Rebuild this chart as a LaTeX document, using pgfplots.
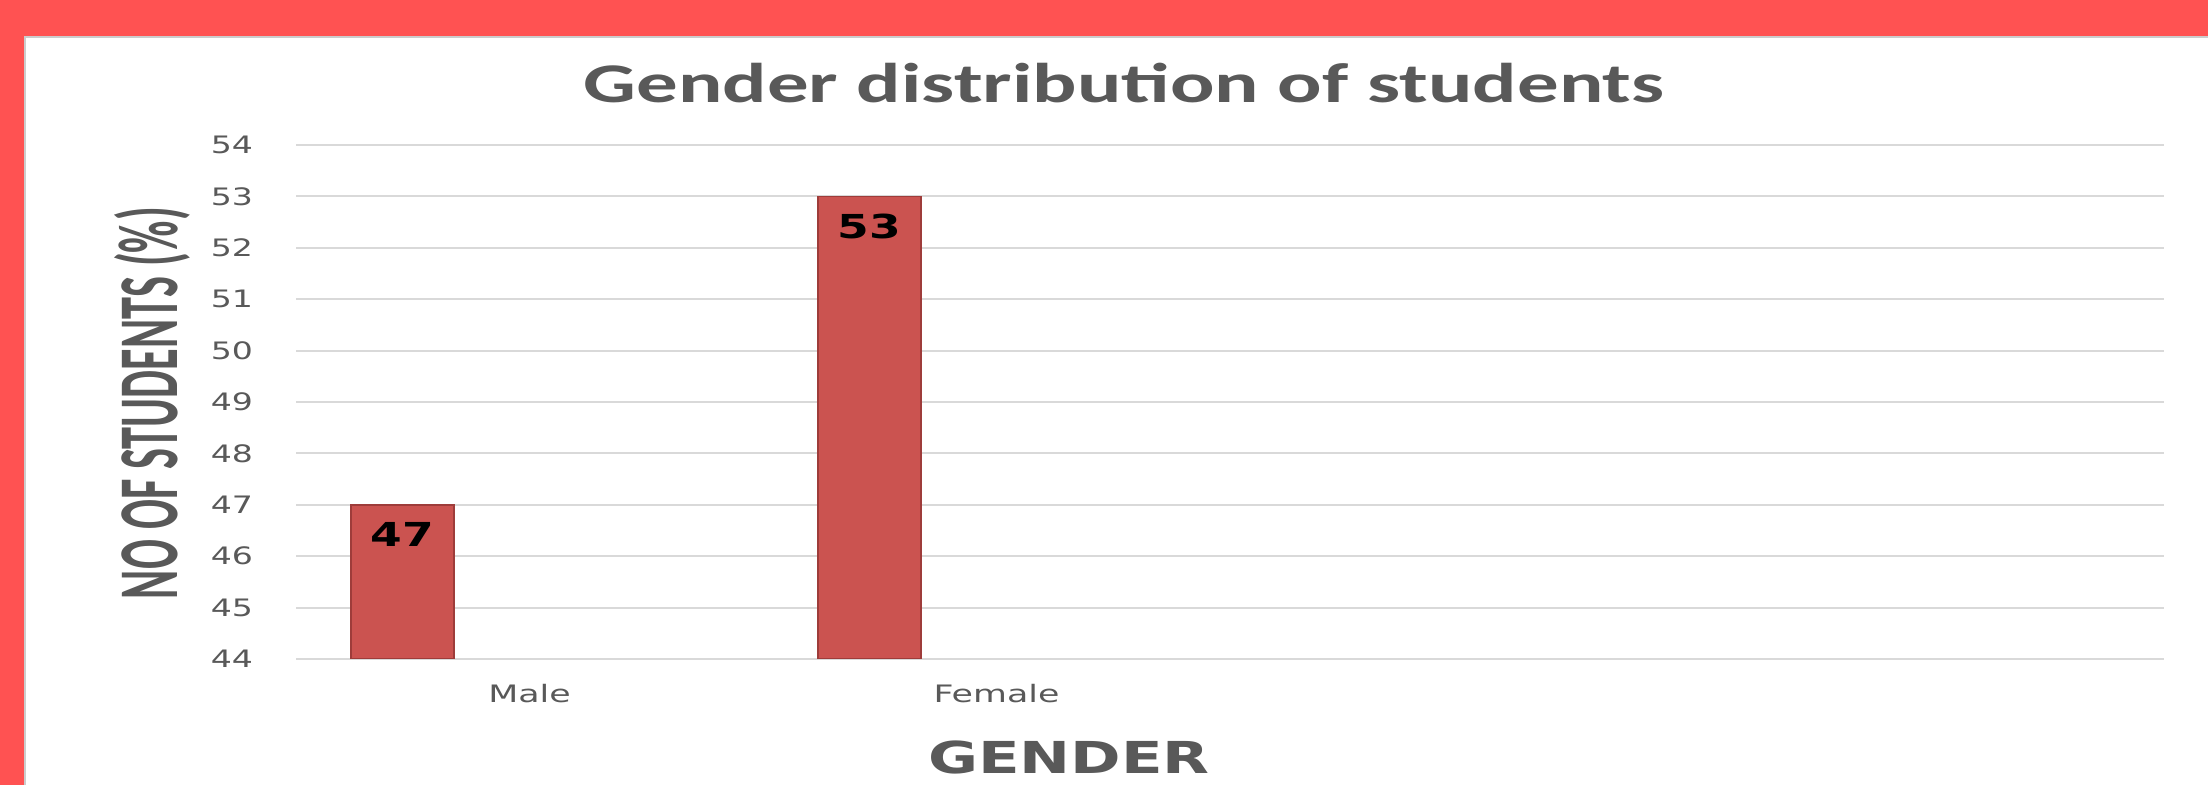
\documentclass[border=0pt]{standalone}
\usepackage{pgfplots}
\pgfplotsset{compat=1.18}
\usepackage{fontspec}
\setmainfont{DejaVu Sans}
\newfontfamily\carlito{Carlito}
\definecolor{frame}{HTML}{FF5252}
\definecolor{txt}{HTML}{595959}
\definecolor{gridc}{HTML}{D9D9D9}
\definecolor{barc}{HTML}{CB5350}
\definecolor{bardark}{HTML}{9E3C3A}
\begin{document}
\begin{tikzpicture}
\useasboundingbox (0,0) rectangle (1104pt,392.5pt);
\fill[frame] (0,0) rectangle (1104pt,392.5pt);
\fill[white] (12pt,0) rectangle (1104pt,374.5pt);
\draw[gray!40, line width=1pt] (12.5pt,0) -- (12.5pt,374pt) -- (1104pt,374pt);
\begin{axis}[
  at={(148pt,63pt)}, anchor=south west,
  scale only axis, width=934pt, height=257pt,
  xmin=-0.5, xmax=3.5, ymin=44, ymax=54,
  ytick={44,45,...,54},
  xtick={0,1,2,3},
  xticklabels={\scalebox{1.45}[1]{Male},\scalebox{1.45}[1]{Female},,},
  yticklabel={\scalebox{1.38}[1]{\pgfmathprintnumber[assume math mode=true]{\tick}}},
  ymajorgrids, grid style={gridc, line width=1pt},
  axis line style={draw=none},
  major tick length=0pt,
  tick label style={font=\fontsize{12}{14}\selectfont, text=txt},
  yticklabel style={xshift=-18pt},
  xticklabel style={yshift=-9pt},
  clip=true,
]
\addplot[ybar, bar width=51.5pt, bar shift=0pt, fill=barc, draw=bardark, line width=0.8pt,
  nodes near coords,
  every node near coord/.append style={anchor=center, yshift=-14.8pt, text=black,
     font=\fontsize{16.5}{18}\bfseries\selectfont},
  nodes near coords={\scalebox{1.38}[1]{\pgfmathprintnumber[assume math mode=true]{\pgfplotspointmeta}}},
] coordinates {(-0.2725,47) (0.7275,53)};
\end{axis}
\node[anchor=base, text=txt, inner sep=0] at (562pt,341pt)
  {\scalebox{1.48}[1]{\carlito\bfseries\fontsize{28}{30}\selectfont Gender distribution of students}};
\node[anchor=base, text=txt, inner sep=0] at (534.5pt,5.5pt)
  {\scalebox{1.385}[1]{\bfseries\fontsize{22}{24}\selectfont GENDER}};
\node[text=txt, inner sep=0] at (76pt,191pt)
  {\rotatebox{90}{\resizebox*{196pt}{38pt}{\carlito\bfseries NO OF STUDENTS (\%)}}};
\end{tikzpicture}
\end{document}
